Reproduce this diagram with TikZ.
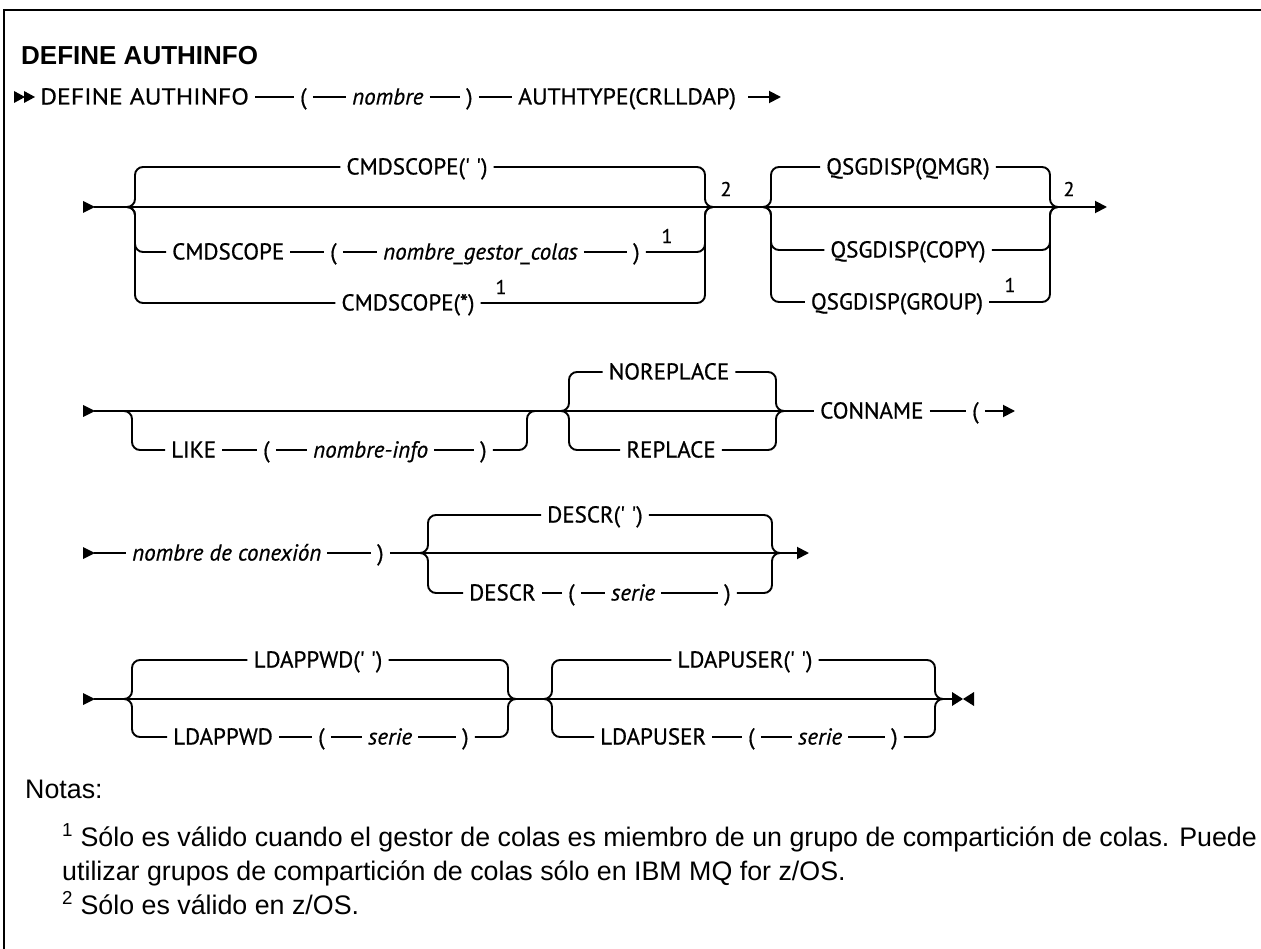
\documentclass[tikz,border=0pt]{standalone}
\usepackage{fontspec}
\setmainfont{Liberation Sans}
\newfontfamily\dfont[FakeBold=0.7]{PT Sans}
\newfontfamily\wfont[FakeBold=0.7, FakeStretch=1.12]{PT Sans}
\newfontfamily\vfont[FakeBold=0.7, FakeStretch=1.03]{PT Sans}
\usetikzlibrary{positioning,arrows.meta}
\tikzset{
 ln/.style={line width=1.9pt},
 br/.style={line width=1.9pt, rounded corners=8pt},
 tok/.style={inner xsep=6pt, inner ysep=0pt, text height=17pt, text depth=2pt, anchor=west, font={\dfont\fontsize{23}{27}\selectfont}},
 wtok/.style={tok, font={\wfont\fontsize{23}{27}\selectfont}},
 vtok/.style={tok, font={\vfont\fontsize{23}{27}\selectfont}},
 var/.style={tok, font={\dfont\itshape\fontsize{23}{27}\selectfont}},
 supn/.style={inner sep=0pt, font={\dfont\fontsize{20}{24}\selectfont}},
 note/.style={inner sep=0pt, anchor=base west, font={\fontsize{26.8}{31}\selectfont}},
 fin/.style={line width=1.9pt, -{Triangle[length=12pt,width=12pt]}},
}
\begin{document}
\begin{tikzpicture}[x=1pt,y=-1pt]
\useasboundingbox (0,0) rectangle (1261,949);
\fill[white] (0,0) rectangle (1261,949);
% frame
\draw[line width=2.5pt] (4,949) -- (4,10) -- (1261,10);
% title
\node[anchor=base west, inner sep=0pt, font={\bfseries\fontsize{26}{30}\selectfont}] (title) at (21,65) {DEFINE AUTHINFO};

% ---------- row 1 ----------
\fill (14,91) -- (25,97) -- (14,103) -- cycle;
\fill (24,91) -- (35,97) -- (24,103) -- cycle;
\coordinate (s1) at (34,97);
\node[wtok] (a1) at (34,97) {DEFINE AUTHINFO};
\node[tok] (a2) at (294,97) {(};
\node[var] (a3) at (346,97) {nombre};
\node[tok] (a4) at (460,97) {)};
\node[vtok] (a5) at (512,97) {AUTHTYPE(CRLLDAP)};
\coordinate (e1) at (781,97);
\draw[ln] (s1) -- (a1);
\draw[ln] (a1) -- (a2);
\draw[ln] (a2) -- (a3);
\draw[ln] (a3) -- (a4);
\draw[ln] (a4) -- (a5);
\draw[fin] ([xshift=6pt]a5.east) -- (e1);

% ---------- row 2 ----------
\fill (83,201) -- (95,207) -- (83,213) -- cycle;
\coordinate (s2) at (94,207);
\coordinate (cLo) at (127,207); \coordinate (cL) at (135,207);
\coordinate (cR) at (705,207);  \coordinate (cRo) at (713,207);
\coordinate (qLo) at (763,207); \coordinate (qL) at (771,207);
\coordinate (qR) at (1050,207); \coordinate (qRo) at (1058,207);
\coordinate (e2) at (1107,207);
\draw[ln] (s2) -- (cLo) -- (cRo) -- (qLo) -- (qRo);
\draw[fin] (qRo) -- (e2);
% CMDSCOPE group
\node[tok, anchor=center] (c1) at (417,167) {CMDSCOPE(' ')};
\draw[br] (cLo) -- (cL) |- (c1);
\draw[br] (c1) -| (cR) -- (cRo);
\node[tok] (c2a) at (166,252) {CMDSCOPE};
\node[tok] (c2b) at (324,252) {(};
\node[var] (c2c) at (377,252) {nombre\_gestor\_colas};
\node[tok] (c2d) at (627,252) {)};
\draw[br] (cLo) -- (cL) |- (c2a);
\draw[ln] (c2a) -- (c2b);
\draw[ln] (c2b) -- (c2c);
\draw[ln] (c2c) -- (c2d);
\draw[br] (c2d) -| (cR) -- (cRo);
\node[supn] (c2s) at (667,236) {1};
\node[tok, anchor=center] (c3) at (408,303) {CMDSCOPE(*)};
\draw[br] (cLo) -- (cL) |- (c3);
\draw[br] (c3) -| (cR) -- (cRo);
\node[supn] (c3s) at (501,287) {1};
\node[supn] (cn2) at (726,189) {2};
% QSGDISP group
\node[tok, anchor=center] (q1) at (908,167) {QSGDISP(QMGR)};
\node[tok, anchor=center] (q2) at (908,250) {QSGDISP(COPY)};
\node[tok, anchor=center] (q3) at (897,302) {QSGDISP(GROUP)};
\draw[br] (qLo) -- (qL) |- (q1);
\draw[br] (q1) -| (qR) -- (qRo);
\draw[br] (qLo) -- (qL) |- (q2);
\draw[br] (q2) -| (qR) -- (qRo);
\draw[br] (qLo) -- (qL) |- (q3);
\draw[br] (q3) -| (qR) -- (qRo);
\node[supn] (q3s) at (1010,285) {1};
\node[supn] (qn2) at (1069,189) {2};

% ---------- row 3 ----------
\fill (83,405) -- (95,411) -- (83,417) -- cycle;
\coordinate (s3) at (94,411);
\coordinate (lLo) at (124,411); \coordinate (lL) at (132,411);
\coordinate (lR) at (527,411);  \coordinate (lRo) at (535,411);
\coordinate (nLo) at (561,411); \coordinate (nL) at (569,411);
\coordinate (nR) at (776,411);  \coordinate (nRo) at (784,411);
\node[tok] (l1) at (165,450) {LIKE};
\node[tok] (l2) at (257,450) {(};
\node[var] (l3) at (307,450) {nombre-info};
\node[tok] (l4) at (474,450) {)};
\draw[br] (lLo) -- (lL) |- (l1);
\draw[ln] (l1) -- (l2);
\draw[ln] (l2) -- (l3);
\draw[ln] (l3) -- (l4);
\draw[br] (l4) -| (lR) -- (lRo);
\node[tok, anchor=center] (n1) at (669,372) {NOREPLACE};
\node[tok, anchor=center] (n2) at (671,450) {REPLACE};
\draw[br] (nLo) -- (nL) |- (n1);
\draw[br] (n1) -| (nR) -- (nRo);
\draw[br] (nLo) -- (nL) |- (n2);
\draw[br] (n2) -| (nR) -- (nRo);
\node[tok] (k1) at (814,411) {CONNAME};
\node[tok] (k2) at (966,411) {(};
\coordinate (e3) at (1015,411);
\draw[ln] (s3) -- (lLo) -- (lRo) -- (nLo) -- (nRo);
\draw[ln] (nRo) -- (k1);
\draw[ln] (k1) -- (k2);
\draw[fin] (k2) -- (e3);

% ---------- row 4 ----------
\fill (83,547) -- (95,553) -- (83,559) -- cycle;
\coordinate (s4) at (94,553);
\node[var] (r1) at (126,553) {nombre de conexión};
\node[tok] (r2) at (371,553) {)};
\coordinate (dLo) at (420,553); \coordinate (dL) at (428,553);
\coordinate (dR) at (772,553);  \coordinate (dRo) at (780,553);
\coordinate (e4) at (809,553);
\draw[ln] (s4) -- (r1);
\draw[ln] (r1) -- (r2);
\draw[ln] (r2) -- (dLo) -- (dRo);
\draw[fin] (dRo) -- (e4);
\node[tok, anchor=center] (d1) at (595,515) {DESCR(' ')};
\draw[br] (dLo) -- (dL) |- (d1);
\draw[br] (d1) -| (dR) -- (dRo);
\node[tok] (d2a) at (463,593) {DESCR};
\node[tok] (d2b) at (562,593) {(};
\node[var] (d2c) at (605,593) {serie};
\node[tok] (d2d) at (718,593) {)};
\draw[br] (dLo) -- (dL) |- (d2a);
\draw[ln] (d2a) -- (d2b);
\draw[ln] (d2b) -- (d2c);
\draw[ln] (d2c) -- (d2d);
\draw[br] (d2d) -| (dR) -- (dRo);

% ---------- row 5 ----------
\fill (83,693) -- (95,699) -- (83,705) -- cycle;
\coordinate (s5) at (94,699);
\coordinate (pLo) at (124,699); \coordinate (pL) at (132,699);
\coordinate (pR) at (508,699);  \coordinate (pRo) at (516,699);
\coordinate (uLo) at (544,699); \coordinate (uL) at (552,699);
\coordinate (uR) at (935,699);  \coordinate (uRo) at (943,699);
\coordinate (e5) at (952,699);
\draw[ln] (s5) -- (pLo) -- (pRo) -- (uLo) -- (uRo) -- (e5);
\fill (952,692) -- (963,699) -- (952,706) -- cycle;
\fill (974,692) -- (963,699) -- (974,706) -- cycle;
\node[tok, anchor=center] (p1) at (318,660) {LDAPPWD(' ')};
\draw[br] (pLo) -- (pL) |- (p1);
\draw[br] (p1) -| (pR) -- (pRo);
\node[tok] (p2a) at (167,737) {LDAPPWD};
\node[tok] (p2b) at (312,737) {(};
\node[var] (p2c) at (362,737) {serie};
\node[tok] (p2d) at (456,737) {)};
\draw[br] (pLo) -- (pL) |- (p2a);
\draw[ln] (p2a) -- (p2b);
\draw[ln] (p2b) -- (p2c);
\draw[ln] (p2c) -- (p2d);
\draw[br] (p2d) -| (pR) -- (pRo);
\node[tok, anchor=center] (u1) at (745,660) {LDAPUSER(' ')};
\draw[br] (uLo) -- (uL) |- (u1);
\draw[br] (u1) -| (uR) -- (uRo);
\node[tok] (u2a) at (594,737) {LDAPUSER};
\node[tok] (u2b) at (742,737) {(};
\node[var] (u2c) at (792,737) {serie};
\node[tok] (u2d) at (885,737) {)};
\draw[br] (uLo) -- (uL) |- (u2a);
\draw[ln] (u2a) -- (u2b);
\draw[ln] (u2b) -- (u2c);
\draw[ln] (u2c) -- (u2d);
\draw[br] (u2d) -| (uR) -- (uRo);

% ---------- notes ----------
\node[note] (nt) at (25,798) {Notas:};
\node[note] (nl1) at (62,846) {\textsuperscript{1} Sólo es válido cuando el gestor de colas es miembro de un grupo de compartición de colas. Puede};
\node[note] (nl2) at (62,880) {utilizar grupos de compartición de colas sólo en IBM MQ for z/OS.};
\node[note] (nl3) at (62,914) {\textsuperscript{2} Sólo es válido en z/OS.};
\end{tikzpicture}
\end{document}
